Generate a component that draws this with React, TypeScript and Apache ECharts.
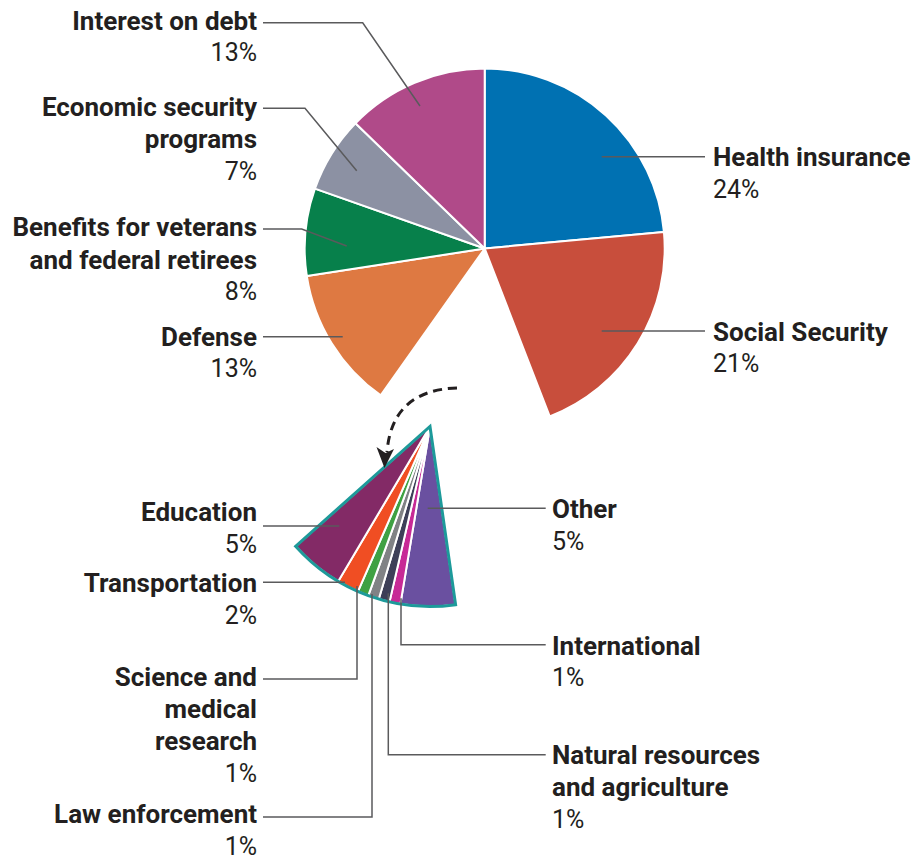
import React, { useEffect, useRef } from "react";
import * as echarts from "echarts";

// ---- data ----
const mainNames = [
  "Health insurance",
  "Social Security",
  "Defense",
  "Benefits for veterans and federal retirees",
  "Economic security programs",
  "Interest on debt",
];
const mainValues = [24, 21, 13, 8, 7, 13];
const mainColors = ["#0071b2", "#c84e3c", "#de7942", "#07804b", "#8c91a3", "#b04a89"];
// the detached slices sit between Social Security (index 1) and Defense (index 2)

const smallNames = [
  "Other",
  "International",
  "Natural resources and agriculture",
  "Law enforcement",
  "Science and medical research",
  "Transportation",
  "Education",
];
const smallValues = [5, 1, 1, 1, 1, 2, 5];
const smallColors = ["#6a50a0", "#c72a96", "#3d3f58", "#808285", "#3fa143", "#f04e23", "#832a66"];

// how each label wraps
const wrappedNames: Record<string, string[]> = {
  "Health insurance": ["Health insurance"],
  "Social Security": ["Social Security"],
  Defense: ["Defense"],
  "Benefits for veterans and federal retirees": ["Benefits for veterans", "and federal retirees"],
  "Economic security programs": ["Economic security", "programs"],
  "Interest on debt": ["Interest on debt"],
  Other: ["Other"],
  International: ["International"],
  "Natural resources and agriculture": ["Natural resources", "and agriculture"],
  "Law enforcement": ["Law enforcement"],
  "Science and medical research": ["Science and", "medical", "research"],
  Transportation: ["Transportation"],
  Education: ["Education"],
};

// ---- layout (label positions and leader lines) ----
type Pos = { x: number; y: number; align: "left" | "right"; line: number[][] };
const labelPos: Record<string, Pos> = {
  "Health insurance": { x: 713, y: 157.3, align: "left", line: [[601.7, 156.7], [705, 156.7]] },
  "Social Security": { x: 713, y: 331.7, align: "left", line: [[601.7, 331], [705, 331]] },
  Defense: { x: 257, y: 336.7, align: "right", line: [[342.7, 336.7], [263, 336.7]] },
  "Benefits for veterans and federal retirees": {
    x: 257, y: 227.3, align: "right", line: [[346.7, 246], [301.7, 229], [263, 229]],
  },
  "Economic security programs": {
    x: 257, y: 107, align: "right", line: [[356.7, 170.7], [305, 108.3], [263, 108.3]],
  },
  "Interest on debt": { x: 257, y: 20.7, align: "right", line: [[420, 106], [362.7, 22.7], [263, 22.7]] },
  Other: { x: 552, y: 509.3, align: "left", line: [[427.7, 508.3], [545.7, 508.3]] },
  International: { x: 552, y: 645.7, align: "left", line: [[401, 598.3], [401, 644.7], [545.7, 644.7]] },
  "Natural resources and agriculture": {
    x: 552, y: 755, align: "left", line: [[388.3, 593.3], [388.3, 754.7], [545.7, 754.7]],
  },
  "Law enforcement": { x: 257, y: 814, align: "right", line: [[372, 594], [372, 817], [263, 817]] },
  "Science and medical research": {
    x: 257, y: 676.7, align: "right", line: [[357, 586], [357, 679], [263, 679]],
  },
  Transportation: { x: 257, y: 583.3, align: "right", line: [[345, 582.3], [263, 582.3]] },
  Education: { x: 257, y: 512.3, align: "right", line: [[339.3, 526], [263, 526]] },
};

const LH = 32.3;
const FONT = "Roboto, 'Noto Sans', sans-serif";
const TEXT = "#231f20";
const LEADER = "#5a5a5c";
const OUTLINE = "#1d9a9a";
const MAIN_CENTER = [484.7, 248.5];
const WEDGE_CENTER = [430, 426.5];
const RADIUS = 180;
const CLEAR = "rgba(0,0,0,0)";

const hidden = {
  itemStyle: { color: CLEAR, borderWidth: 0 },
  label: { show: false },
  labelLine: { show: false },
};

function formatLabel(p: any) {
  const pos = labelPos[p.name];
  if (!pos) return "";
  const s = pos.align === "left" ? "l" : "r";
  const lines = (wrappedNames[p.name] || [p.name]).map((t) => `{n${s}|${t}}`);
  lines.push(`{p${s}|${p.value}%}`);
  return lines.join("\n");
}

const nameStyle = { fontFamily: FONT, fontWeight: "bold", fontSize: 26, color: TEXT, lineHeight: LH };
const pctStyle = { fontFamily: FONT, fontWeight: "normal", fontSize: 25, color: TEXT, lineHeight: LH };
const rich = {
  nl: { ...nameStyle, align: "left" },
  nr: { ...nameStyle, align: "right" },
  pl: { ...pctStyle, align: "left" },
  pr: { ...pctStyle, align: "right" },
};

function makeLayout(names: (string | null)[]) {
  return (params: any) => {
    const name = names[params.dataIndex];
    if (!name) return {};
    const pos = labelPos[name];
    if (!pos) return {};
    return {
      x: pos.x,
      y: pos.y - LH / 2,
      align: pos.align,
      verticalAlign: "top",
      labelLinePoints: pos.line,
    };
  };
}

export default function App() {
  const ref = useRef<HTMLDivElement>(null);

  useEffect(() => {
    if (!ref.current) return;
    const chart = echarts.init(ref.current, null, { renderer: "svg" });

    const smallTotal = smallValues.reduce((a, b) => a + b, 0);
    const mainTotal = mainValues.reduce((a, b) => a + b, 0);
    const total = mainTotal + smallTotal;

    // main pie: Health, SS, [gap], Defense, Veterans, Econ, Interest
    const mainData: any[] = [];
    const mainOrderNames: (string | null)[] = [];
    mainNames.forEach((n, i) => {
      if (i === 2) {
        mainData.push({ name: "__gap", value: smallTotal, ...hidden });
        mainOrderNames.push(null);
      }
      mainData.push({ name: n, value: mainValues[i], itemStyle: { color: mainColors[i] } });
      mainOrderNames.push(n);
    });

    // gap start (clockwise from 12 o'clock) in the main pie; the detached wedge is turned a bit clockwise
    const gapStartDeg = ((mainValues[0] + mainValues[1]) / total) * 360;
    const wedgeStartAngle = 90 - (gapStartDeg + 13);

    const wedgeData: any[] = smallNames.map((n, i) => ({
      name: n,
      value: smallValues[i],
      itemStyle: { color: smallColors[i] },
    }));
    wedgeData.push({ name: "__rest", value: mainTotal, ...hidden });
    const wedgeOrderNames: (string | null)[] = [...smallNames, null];

    // transparent copies that carry the labels above all sectors
    const asOverlay = (data: any[]) =>
      data.map((d) =>
        d.name.startsWith("__")
          ? d
          : { name: d.name, value: d.value, itemStyle: { color: CLEAR, borderWidth: 0 } }
      );

    const pieBase = {
      type: "pie",
      radius: RADIUS,
      clockwise: true,
      avoidLabelOverlap: false,
      silent: true,
    };
    const labelSeries = {
      label: { show: true, position: "outside", formatter: formatLabel, rich },
      labelLine: { show: true, lineStyle: { color: LEADER, width: 1.5 } },
    };

    chart.setOption({
      animation: false,
      backgroundColor: "#ffffff",
      series: [
        {
          ...pieBase,
          center: MAIN_CENTER,
          startAngle: 90,
          itemStyle: { borderColor: "#ffffff", borderWidth: 2 },
          label: { show: false },
          labelLine: { show: false },
          data: mainData,
          z: 2,
        },
        {
          ...pieBase,
          center: WEDGE_CENTER,
          startAngle: wedgeStartAngle,
          itemStyle: { borderColor: "#ffffff", borderWidth: 2 },
          label: { show: false },
          labelLine: { show: false },
          data: wedgeData,
          z: 2,
        },
        {
          ...pieBase,
          center: WEDGE_CENTER,
          startAngle: wedgeStartAngle,
          label: { show: false },
          labelLine: { show: false },
          data: [
            {
              name: "__outline",
              value: smallTotal,
              itemStyle: { color: CLEAR, borderColor: OUTLINE, borderWidth: 3, borderJoin: "miter" },
            },
            { name: "__rest2", value: mainTotal, itemStyle: { color: CLEAR, borderWidth: 0 } },
          ],
          z: 3,
        },
        {
          ...pieBase,
          ...labelSeries,
          center: MAIN_CENTER,
          startAngle: 90,
          labelLayout: makeLayout(mainOrderNames),
          data: asOverlay(mainData),
          z: 4,
        },
        {
          ...pieBase,
          ...labelSeries,
          center: WEDGE_CENTER,
          startAngle: wedgeStartAngle,
          labelLayout: makeLayout(wedgeOrderNames),
          data: asOverlay(wedgeData),
          z: 4,
        },
      ],
      graphic: [
        {
          type: "bezierCurve",
          silent: true,
          z: 10,
          shape: { x1: 457, y1: 388, cpx1: 392, cpy1: 390, x2: 387, y2: 452 },
          style: { stroke: TEXT, lineWidth: 3, lineDash: [9, 6], fill: null },
        },
        {
          type: "polygon",
          silent: true,
          z: 10,
          shape: { points: [[384.5, 468], [376.5, 447], [385.5, 453], [394, 449]] },
          style: { fill: TEXT },
        },
      ],
    });

    return () => chart.dispose();
  }, []);

  return (
    <div
      ref={ref}
      style={{ position: "fixed", left: 0, top: 0, width: 917, height: 860, background: "#fff" }}
    />
  );
}
